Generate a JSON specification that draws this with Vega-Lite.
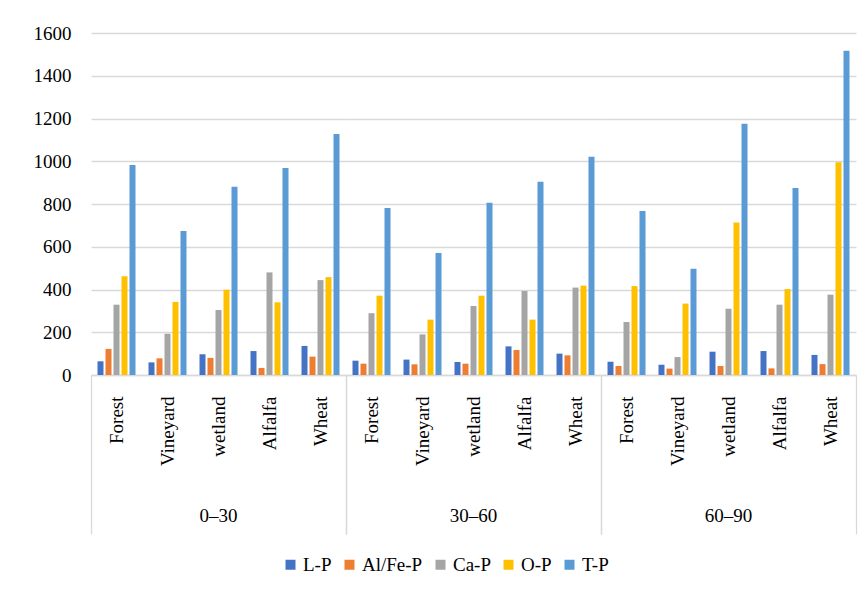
{
  "$schema": "https://vega.github.io/schema/vega-lite/v6.json",
  "padding": {"left": 33, "top": 24, "right": 10, "bottom": 5},
  "background": "white",
  "bounds": "flush",
  "data": {"values": [
    {"depth":"0–30","land":"Forest","series":"L-P","value":64},
    {"depth":"0–30","land":"Forest","series":"Al/Fe-P","value":122},
    {"depth":"0–30","land":"Forest","series":"Ca-P","value":329},
    {"depth":"0–30","land":"Forest","series":"O-P","value":462},
    {"depth":"0–30","land":"Forest","series":"T-P","value":982},
    {"depth":"0–30","land":"Vineyard","series":"L-P","value":59},
    {"depth":"0–30","land":"Vineyard","series":"Al/Fe-P","value":78},
    {"depth":"0–30","land":"Vineyard","series":"Ca-P","value":193},
    {"depth":"0–30","land":"Vineyard","series":"O-P","value":342},
    {"depth":"0–30","land":"Vineyard","series":"T-P","value":674},
    {"depth":"0–30","land":"wetland","series":"L-P","value":97},
    {"depth":"0–30","land":"wetland","series":"Al/Fe-P","value":80},
    {"depth":"0–30","land":"wetland","series":"Ca-P","value":304},
    {"depth":"0–30","land":"wetland","series":"O-P","value":399},
    {"depth":"0–30","land":"wetland","series":"T-P","value":881},
    {"depth":"0–30","land":"Alfalfa","series":"L-P","value":112},
    {"depth":"0–30","land":"Alfalfa","series":"Al/Fe-P","value":33},
    {"depth":"0–30","land":"Alfalfa","series":"Ca-P","value":480},
    {"depth":"0–30","land":"Alfalfa","series":"O-P","value":340},
    {"depth":"0–30","land":"Alfalfa","series":"T-P","value":968},
    {"depth":"0–30","land":"Wheat","series":"L-P","value":136},
    {"depth":"0–30","land":"Wheat","series":"Al/Fe-P","value":86},
    {"depth":"0–30","land":"Wheat","series":"Ca-P","value":444},
    {"depth":"0–30","land":"Wheat","series":"O-P","value":458},
    {"depth":"0–30","land":"Wheat","series":"T-P","value":1128},
    {"depth":"30–60","land":"Forest","series":"L-P","value":67},
    {"depth":"30–60","land":"Forest","series":"Al/Fe-P","value":53},
    {"depth":"30–60","land":"Forest","series":"Ca-P","value":289},
    {"depth":"30–60","land":"Forest","series":"O-P","value":371},
    {"depth":"30–60","land":"Forest","series":"T-P","value":781},
    {"depth":"30–60","land":"Vineyard","series":"L-P","value":72},
    {"depth":"30–60","land":"Vineyard","series":"Al/Fe-P","value":50},
    {"depth":"30–60","land":"Vineyard","series":"Ca-P","value":190},
    {"depth":"30–60","land":"Vineyard","series":"O-P","value":259},
    {"depth":"30–60","land":"Vineyard","series":"T-P","value":571},
    {"depth":"30–60","land":"wetland","series":"L-P","value":61},
    {"depth":"30–60","land":"wetland","series":"Al/Fe-P","value":53},
    {"depth":"30–60","land":"wetland","series":"Ca-P","value":323},
    {"depth":"30–60","land":"wetland","series":"O-P","value":371},
    {"depth":"30–60","land":"wetland","series":"T-P","value":806},
    {"depth":"30–60","land":"Alfalfa","series":"L-P","value":134},
    {"depth":"30–60","land":"Alfalfa","series":"Al/Fe-P","value":117},
    {"depth":"30–60","land":"Alfalfa","series":"Ca-P","value":393},
    {"depth":"30–60","land":"Alfalfa","series":"O-P","value":259},
    {"depth":"30–60","land":"Alfalfa","series":"T-P","value":904},
    {"depth":"30–60","land":"Wheat","series":"L-P","value":100},
    {"depth":"30–60","land":"Wheat","series":"Al/Fe-P","value":92},
    {"depth":"30–60","land":"Wheat","series":"Ca-P","value":409},
    {"depth":"30–60","land":"Wheat","series":"O-P","value":418},
    {"depth":"30–60","land":"Wheat","series":"T-P","value":1021},
    {"depth":"60–90","land":"Forest","series":"L-P","value":62},
    {"depth":"60–90","land":"Forest","series":"Al/Fe-P","value":42},
    {"depth":"60–90","land":"Forest","series":"Ca-P","value":248},
    {"depth":"60–90","land":"Forest","series":"O-P","value":416},
    {"depth":"60–90","land":"Forest","series":"T-P","value":767},
    {"depth":"60–90","land":"Vineyard","series":"L-P","value":48},
    {"depth":"60–90","land":"Vineyard","series":"Al/Fe-P","value":30},
    {"depth":"60–90","land":"Vineyard","series":"Ca-P","value":84},
    {"depth":"60–90","land":"Vineyard","series":"O-P","value":334},
    {"depth":"60–90","land":"Vineyard","series":"T-P","value":497},
    {"depth":"60–90","land":"wetland","series":"L-P","value":109},
    {"depth":"60–90","land":"wetland","series":"Al/Fe-P","value":42},
    {"depth":"60–90","land":"wetland","series":"Ca-P","value":310},
    {"depth":"60–90","land":"wetland","series":"O-P","value":714},
    {"depth":"60–90","land":"wetland","series":"T-P","value":1176},
    {"depth":"60–90","land":"Alfalfa","series":"L-P","value":112},
    {"depth":"60–90","land":"Alfalfa","series":"Al/Fe-P","value":31},
    {"depth":"60–90","land":"Alfalfa","series":"Ca-P","value":329},
    {"depth":"60–90","land":"Alfalfa","series":"O-P","value":402},
    {"depth":"60–90","land":"Alfalfa","series":"T-P","value":875},
    {"depth":"60–90","land":"Wheat","series":"L-P","value":94},
    {"depth":"60–90","land":"Wheat","series":"Al/Fe-P","value":51},
    {"depth":"60–90","land":"Wheat","series":"Ca-P","value":376},
    {"depth":"60–90","land":"Wheat","series":"O-P","value":995},
    {"depth":"60–90","land":"Wheat","series":"T-P","value":1517}
  ]},
  "facet": {
    "column": {
      "field": "depth",
      "type": "ordinal",
      "sort": ["0–30", "30–60", "60–90"],
      "header": {
        "title": null,
        "labelOrient": "bottom",
        "labelFont": "Liberation Serif",
        "labelFontSize": 19,
        "labelColor": "#000000",
        "labelPadding": -28
      }
    }
  },
  "spacing": 0,
  "spec": {
    "width": 255,
    "height": 342,
    "mark": {"type": "bar"},
    "encoding": {
      "x": {
        "field": "land",
        "type": "nominal",
        "sort": ["Forest", "Vineyard", "wetland", "Alfalfa", "Wheat"],
        "scale": {"paddingInner": 0, "paddingOuter": 0},
        "axis": {
          "title": null,
          "labelAngle": -90,
          "labelFont": "Liberation Serif",
          "labelFontSize": 19,
          "labelColor": "#000000",
          "labelPadding": -138,
          "domainColor": "#d9d9d9",
          "domainWidth": 1.3,
          "tickBand": "extent",
          "tickSize": 159,
          "tickColor": "#d9d9d9",
          "tickWidth": 1.3,
          "tickOpacity": {
            "condition": {"test": "indexof(['Forest','Vineyard','wetland','Alfalfa'], datum.value) >= 0", "value": 0},
            "value": 1
          },
          "grid": false
        }
      },
      "xOffset": {
        "field": "series",
        "type": "nominal",
        "sort": ["L-P", "Al/Fe-P", "Ca-P", "O-P", "T-P"],
        "scale": {"paddingInner": 0.25, "paddingOuter": 0.8125}
      },
      "y": {
        "field": "value",
        "type": "quantitative",
        "scale": {"domain": [0, 1600], "nice": false},
        "axis": {
          "title": null,
          "values": [0, 200, 400, 600, 800, 1000, 1200, 1400, 1600],
          "format": "d",
          "domain": false,
          "ticks": false,
          "labelPadding": 20,
          "labelFont": "Liberation Serif",
          "labelFontSize": 19,
          "labelColor": "#000000",
          "gridColor": "#d9d9d9",
          "gridWidth": 1.3
        }
      },
      "color": {
        "field": "series",
        "type": "nominal",
        "sort": ["L-P", "Al/Fe-P", "Ca-P", "O-P", "T-P"],
        "scale": {
          "domain": ["L-P", "Al/Fe-P", "Ca-P", "O-P", "T-P"],
          "range": ["#4472C4", "#ED7D31", "#A5A5A5", "#FFC000", "#5B9BD5"]
        },
        "legend": {
          "title": null,
          "orient": "bottom",
          "direction": "horizontal",
          "symbolType": "square",
          "symbolSize": 100,
          "symbolStrokeWidth": 0,
          "labelFont": "Liberation Serif",
          "labelFontSize": 19,
          "labelColor": "#000000",
          "labelOffset": 3,
          "columnPadding": 8,
          "offset": 20
        }
      }
    }
  },
  "config": {
    "font": "Liberation Serif",
    "view": {"stroke": null},
    "legend": {"layout": {"bottom": {"anchor": "middle"}}}
  }
}
